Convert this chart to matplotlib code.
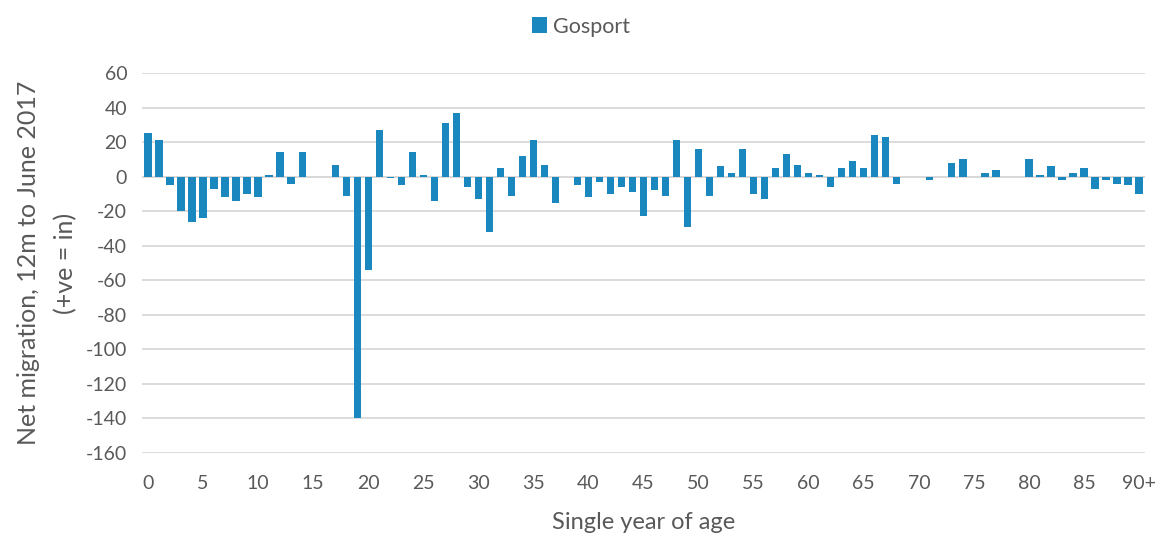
import numpy as np
import matplotlib
matplotlib.use('Agg')
import matplotlib.pyplot as plt

ages = [str(a) for a in range(90)] + ['90+']
net_migration = [25, 21, -5, -20, -26, -24, -7, -12, -14, -10,
                 -12, 1, 14, -4, 14, 0, 0, 7, -11, -140,
                 -54, 27, -1, -5, 14, 1, -14, 31, 37, -6,
                 -13, -32, 5, -11, 12, 21, 7, -15, 0, -5,
                 -12, -3, -10, -6, -9, -23, -8, -11, 21, -29,
                 16, -11, 6, 2, 16, -10, -13, 5, 13, 7,
                 2, 1, -6, 5, 9, 5, 24, 23, -4, 0,
                 0, -2, 0, 8, 10, 0, 2, 4, 0, 0,
                 10, 1, 6, -2, 2, 5, -7, -2, -4, -5,
                 -10]
yticks = list(range(-160, 61, 20))

plt.rcParams['font.family'] = ['Lato', 'DejaVu Sans']
grey = '#595959'
blue = '#1B87BF'

fig = plt.figure(figsize=(11.62, 5.38), dpi=100)
ax = fig.add_axes([0.1226, 0.158, 0.8624, 0.7063])

x = np.arange(len(ages))
ax.bar(x, net_migration, width=0.66, color=blue, edgecolor='none',
       label='Gosport', zorder=3)

ax.set_xlim(-0.5, len(ages) - 0.5)
ax.set_ylim(-160, 60)
ax.set_yticks(yticks)
ax.set_yticklabels([str(v) for v in yticks])
tick_pos = list(range(0, len(ages), 5))
ax.set_xticks(tick_pos)
ax.set_xticklabels([ages[i] for i in tick_pos])
ax.yaxis.grid(True, color='#D9D9D9', linewidth=1.3, zorder=0)
ax.axhline(0, color='#D9D9D9', linewidth=1.3, zorder=1)
for s in ax.spines.values():
    s.set_visible(False)
ax.tick_params(length=0, labelsize=14, colors=grey, pad=11)
ax.tick_params(axis='x', pad=16)

ax.set_xlabel('Single year of age', fontsize=17, color=grey, labelpad=14)
ax.set_ylabel('Net migration, 12m to June 2017\n(+ve = in)', fontsize=18,
              color=grey, labelpad=6, linespacing=1.75)

fig.legend(loc='upper center', bbox_to_anchor=(0.5, 1.005), frameon=False,
           fontsize=15.5, handlelength=0.7, handleheight=0.8, handletextpad=0.3,
           labelcolor=grey)

fig.savefig('out.png', dpi=100)
